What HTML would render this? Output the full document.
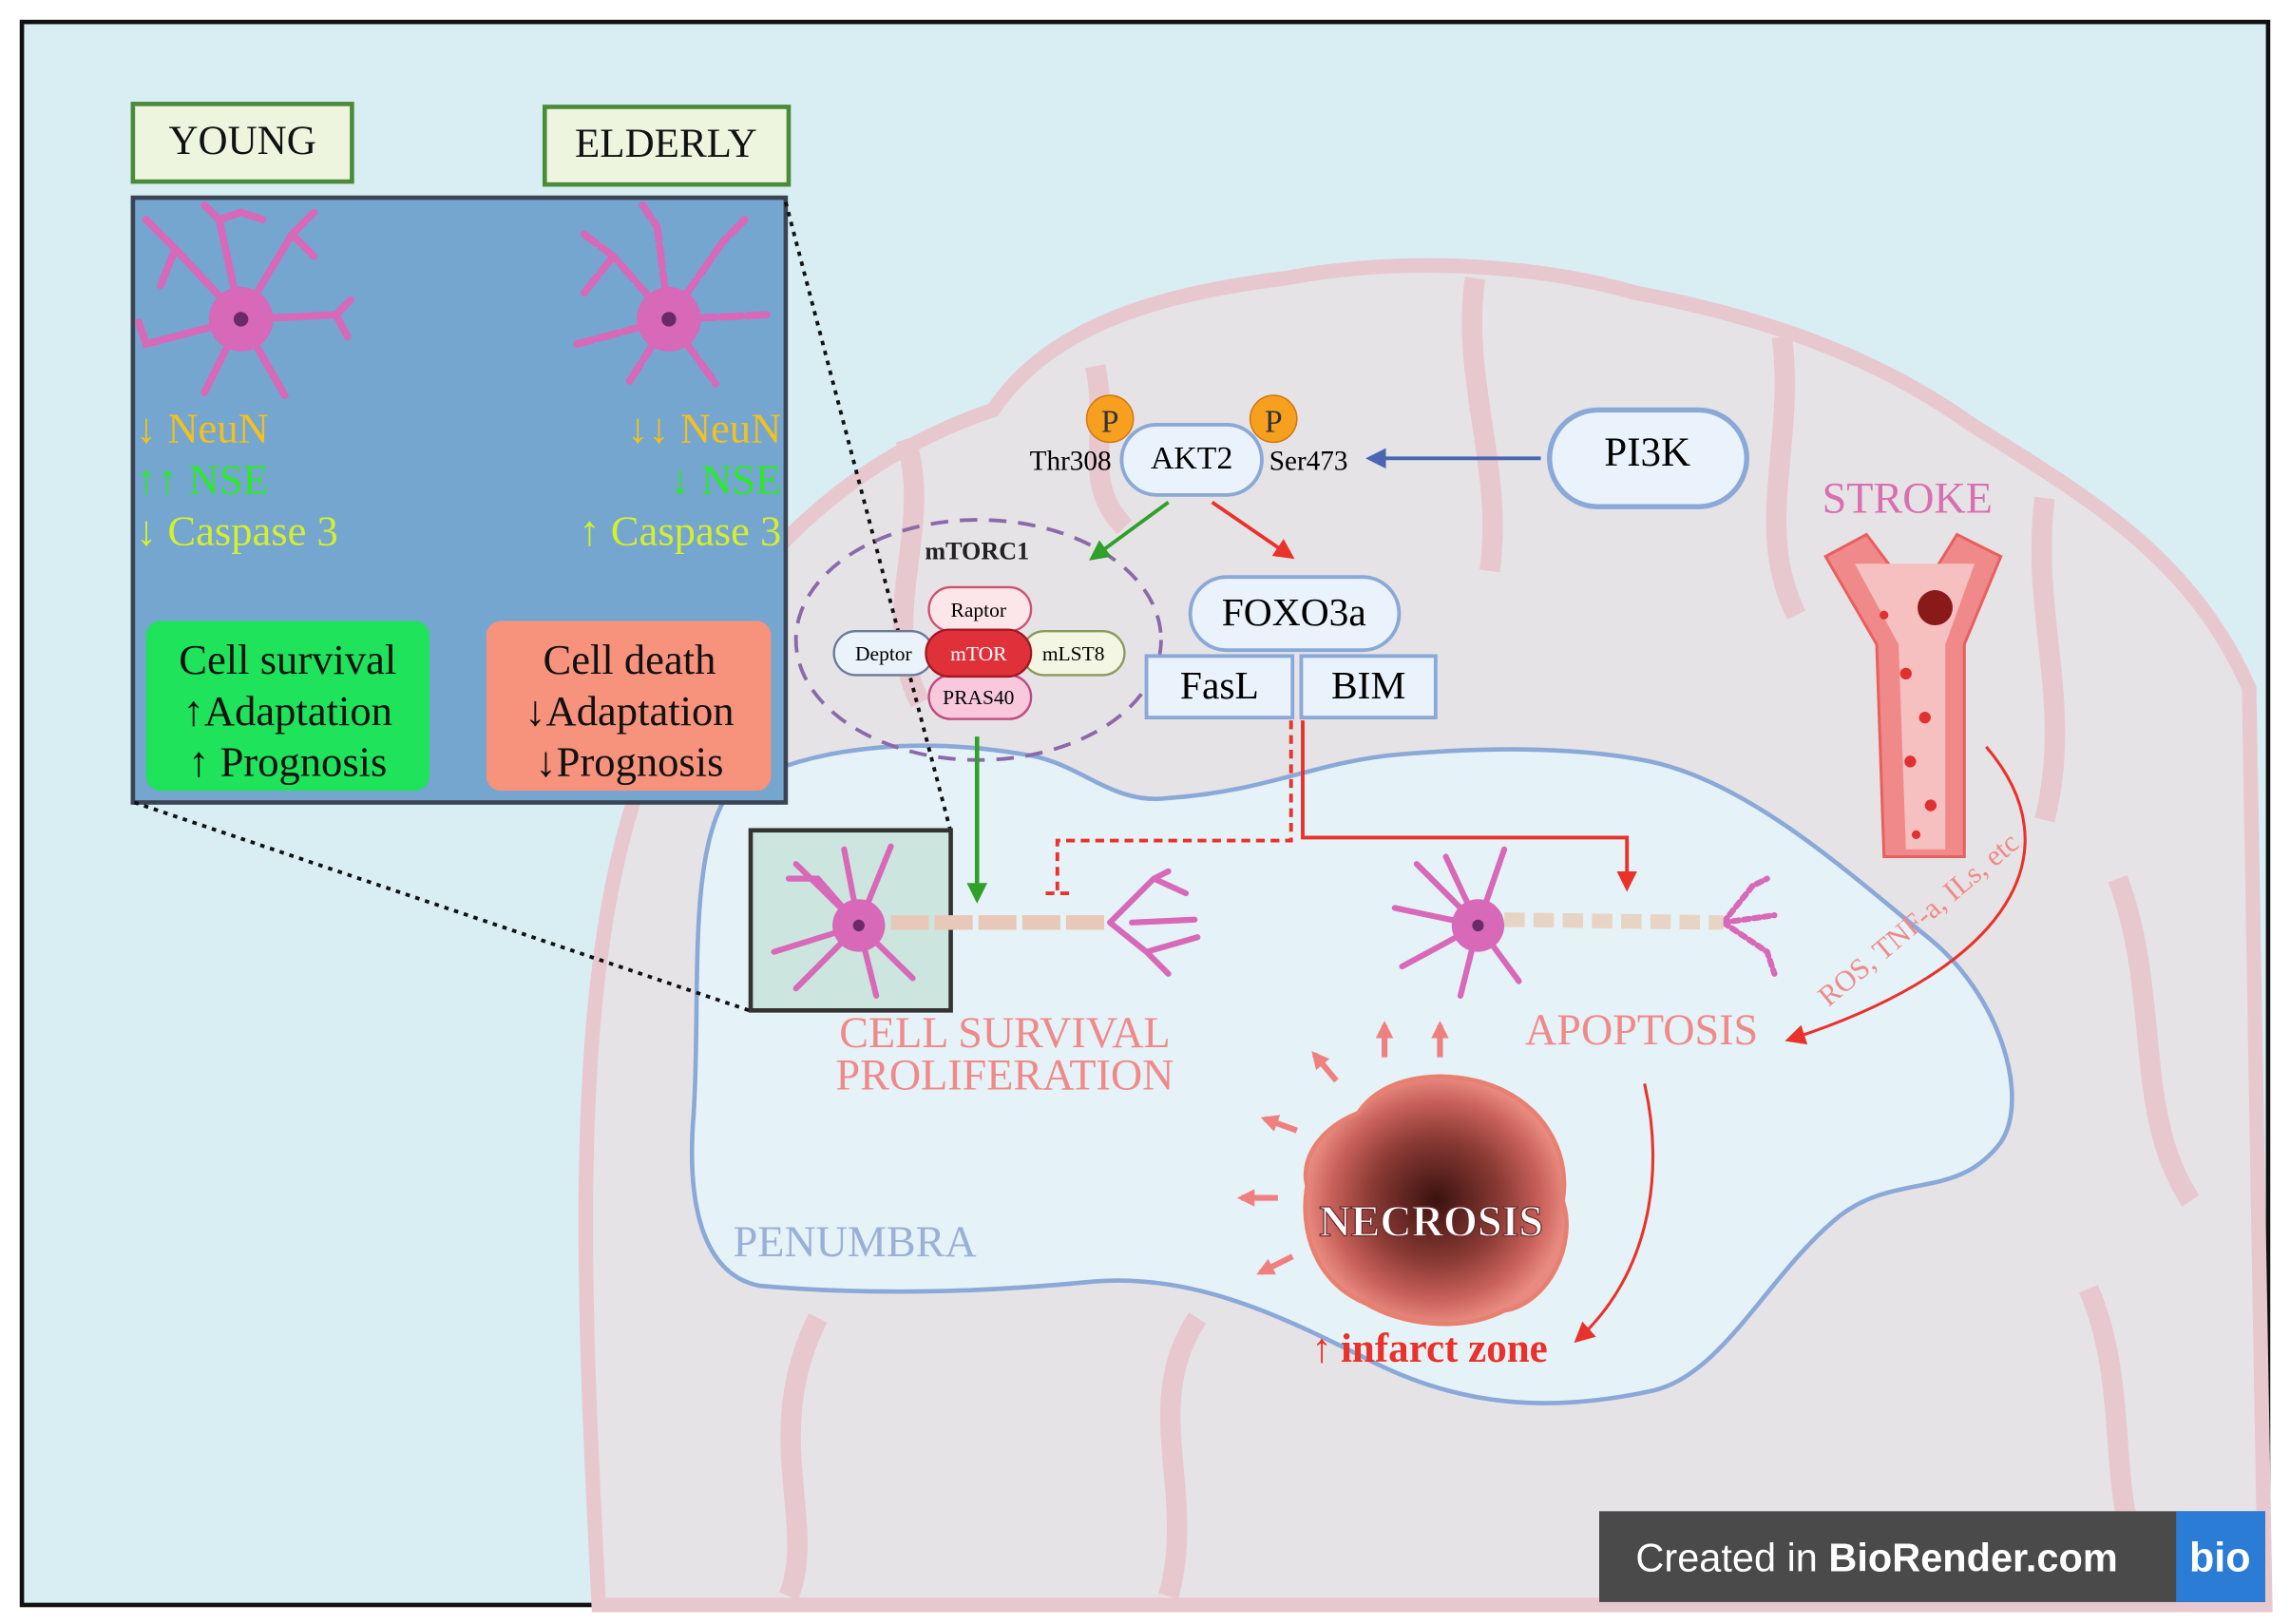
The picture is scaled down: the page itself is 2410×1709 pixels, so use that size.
<!DOCTYPE html>
<html><head><meta charset="utf-8"><style>
html,body{margin:0;padding:0;background:#fff;}
svg{display:block;}
text{font-family:"Liberation Serif",serif;}
</style></head><body>
<svg width="2410" height="1709" viewBox="0 0 1568 1109" preserveAspectRatio="none" xmlns="http://www.w3.org/2000/svg">
<defs>
<marker id="ag" markerUnits="userSpaceOnUse" markerWidth="14" markerHeight="14" refX="11" refY="7" orient="auto"><path d="M0,0 L14,7 L0,14 z" fill="#2fa02a"/></marker>
<marker id="ar" markerUnits="userSpaceOnUse" markerWidth="14" markerHeight="14" refX="11" refY="7" orient="auto"><path d="M0,0 L14,7 L0,14 z" fill="#e8322a"/></marker>
<marker id="ab" markerUnits="userSpaceOnUse" markerWidth="14" markerHeight="14" refX="11" refY="7" orient="auto"><path d="M0,0 L14,7 L0,14 z" fill="#4a66b0"/></marker>
<marker id="ap" markerUnits="userSpaceOnUse" markerWidth="12" markerHeight="12" refX="9" refY="6" orient="auto"><path d="M0,0 L12,6 L0,12 z" fill="#f08080"/></marker>
<radialGradient id="nec" cx="50%" cy="50%" r="50%"><stop offset="0" stop-color="#3a1210"/><stop offset="0.5" stop-color="#8a3a34"/><stop offset="0.8" stop-color="#c8605a"/><stop offset="1" stop-color="#e88a80"/></radialGradient>
</defs>
<rect x="0" y="0" width="1568" height="1109" fill="#fff"/>
<rect x="15" y="15" width="1538" height="1081" fill="#d8eef3" stroke="#111" stroke-width="3"/>
<!-- brain -->
<path d="M410,1096 C400,900 390,700 430,560 C470,420 560,320 680,280 C720,220 800,200 880,190 C960,175 1050,180 1120,200 C1200,215 1280,240 1350,290 C1430,340 1500,380 1540,470 L1551,1096 Z" fill="#e6e3e6" stroke="#e8c8cf" stroke-width="10"/>
<path d="M620,300 C640,360 600,420 630,480 M750,250 C760,300 740,330 770,360 M1010,190 C1000,260 1030,320 1020,390 M1220,230 C1230,300 1200,360 1230,420 M1400,340 C1390,420 1420,480 1400,560 M1450,600 C1480,680 1460,760 1500,820 M1430,880 C1460,950 1440,1020 1470,1080 M800,1090 C820,1020 780,960 820,900 M560,900 C520,980 560,1040 540,1090" fill="none" stroke="#e8c8cf" stroke-width="14"/>
<!-- penumbra -->
<path d="M500,540 C560,505 640,505 700,515 C740,520 760,550 800,545 C870,540 900,520 960,515 C1020,510 1080,510 1130,520 C1200,535 1270,600 1320,640 C1370,680 1390,750 1370,780 C1340,820 1300,800 1260,830 C1210,870 1180,940 1130,950 C1060,965 1000,960 940,930 C880,900 820,870 750,875 C680,882 600,885 520,878 C480,870 470,820 475,760 C480,680 470,580 500,540 Z" fill="#e5f2f7" stroke="#8aa8d8" stroke-width="3"/>
<text x="502" y="858" font-size="30" fill="#9ab0d6">PENUMBRA</text>
<!-- left panel -->
<rect x="91" y="135" width="447" height="413" fill="#74a6cf" stroke="#3a4452" stroke-width="3"/>
<rect x="91" y="71" width="150" height="53" fill="#eef5de" stroke="#4a8a3a" stroke-width="3"/>
<text x="166" y="105" font-size="28" text-anchor="middle" fill="#111">YOUNG</text>
<rect x="373" y="73" width="167" height="53" fill="#eef5de" stroke="#4a8a3a" stroke-width="3"/>
<text x="456" y="107" font-size="28" text-anchor="middle" fill="#111">ELDERLY</text>
<g stroke="#d868b8" stroke-width="5" fill="none" stroke-linecap="round">
<path d="M165,218 L120,170 L100,150 M120,170 L110,195 M165,218 L150,150 L140,140 M150,150 L165,145 L180,150 M165,218 L200,160 L215,145 M200,160 L215,175 M165,218 L230,215 L240,205 M230,215 L238,230 M165,218 L195,270 M165,218 L140,268 M165,218 L100,235 L95,220"/>
<path d="M458,218 L420,175 L400,160 M420,175 L400,200 M458,218 L450,155 L440,140 M458,218 L495,165 L510,150 M458,218 L525,215 M458,218 L490,262 M458,218 L430,262 M458,218 L395,235" stroke-dasharray="14 4"/>
</g>
<circle cx="165" cy="218" r="22" fill="#d868b8"/><circle cx="165" cy="218" r="5" fill="#6a2a6a"/>
<circle cx="458" cy="218" r="22" fill="#d868b8"/><circle cx="458" cy="218" r="5" fill="#6a2a6a"/>
<text x="93" y="302" font-size="29" fill="#f2c020">↓ NeuN</text>
<text x="93" y="337" font-size="29" fill="#2ee82e">↑↑ NSE</text>
<text x="93" y="372" font-size="29" fill="#d4ee30">↓ Caspase 3</text>
<text x="535" y="302" font-size="29" fill="#f2c020" text-anchor="end">↓↓ NeuN</text>
<text x="535" y="337" font-size="29" fill="#2ee82e" text-anchor="end">↓ NSE</text>
<text x="535" y="372" font-size="29" fill="#d4ee30" text-anchor="end">↑ Caspase 3</text>
<rect x="100" y="424" width="194" height="116" rx="10" fill="#1fe35a"/>
<text x="197" y="460" font-size="29" text-anchor="middle" fill="#111">Cell survival</text>
<text x="197" y="495" font-size="29" text-anchor="middle" fill="#111">↑Adaptation</text>
<text x="197" y="530" font-size="29" text-anchor="middle" fill="#111">↑ Prognosis</text>
<rect x="333" y="424" width="195" height="116" rx="10" fill="#f7927c"/>
<text x="431" y="460" font-size="29" text-anchor="middle" fill="#111">Cell death</text>
<text x="431" y="495" font-size="29" text-anchor="middle" fill="#111">↓Adaptation</text>
<text x="431" y="530" font-size="29" text-anchor="middle" fill="#111">↓Prognosis</text>
<line x1="538" y1="138" x2="651" y2="568" stroke="#111" stroke-width="2.5" stroke-dasharray="3 4"/>
<line x1="92" y1="548" x2="513" y2="690" stroke="#111" stroke-width="2.5" stroke-dasharray="3 4"/>
<rect x="514" y="567" width="137" height="123" fill="#cde5df" stroke="#333" stroke-width="3"/>
<g stroke="#d868b8" stroke-width="4" fill="none" stroke-linecap="round">
<path d="M588,632 L545,590 M588,632 L560,600 L540,600 M588,632 L578,580 M588,632 L610,578 M588,632 L530,650 M588,632 L545,675 M588,632 L600,680 M588,632 L625,668"/>
<path d="M760,630 L790,600 L800,595 M790,600 L812,610 M760,630 L785,650 L800,665 M785,650 L820,640 M775,630 L818,628"/>
</g>
<path d="M610,630 L760,630" stroke="#e8c8b8" stroke-width="10" stroke-dasharray="26 4"/>
<circle cx="588" cy="632" r="18" fill="#d868b8"/><circle cx="588" cy="632" r="4" fill="#6a2a6a"/>
<g stroke="#d868b8" stroke-width="4" fill="none" stroke-linecap="round">
<path d="M1012,632 L970,590 M1012,632 L990,585 M1012,632 L1030,580 M1012,632 L955,620 M1012,632 L960,660 M1012,632 L1000,680 M1012,632 L1040,670"/>
<path d="M1180,630 L1200,605 L1210,600 M1180,630 L1215,625 M1180,630 L1210,650 L1215,665" stroke-dasharray="4 3"/>
</g>
<path d="M1030,628 L1180,630" stroke="#e8d4c4" stroke-width="10" stroke-dasharray="14 6"/>
<circle cx="1012" cy="632" r="18" fill="#d868b8"/><circle cx="1012" cy="632" r="4" fill="#6a2a6a"/>
<text x="688" y="715" font-size="30" fill="#f08a8a" text-anchor="middle">CELL SURVIVAL</text>
<text x="688" y="744" font-size="30" fill="#f08a8a" text-anchor="middle">PROLIFERATION</text>
<text x="1124" y="713" font-size="30" fill="#f08a8a" text-anchor="middle">APOPTOSIS</text>
<ellipse cx="670" cy="437" rx="125" ry="82" fill="none" stroke="#8a6aa8" stroke-width="2.5" stroke-dasharray="12 8"/>
<text x="669" y="382" font-size="17" font-weight="bold" text-anchor="middle" fill="#222">mTORC1</text>
<rect x="571" y="431" width="68" height="30" rx="15" fill="#eaf2fa" stroke="#6a7a9a" stroke-width="1.5"/>
<text x="605" y="451" font-size="14" text-anchor="middle">Deptor</text>
<rect x="700" y="431" width="70" height="30" rx="15" fill="#f2f6e2" stroke="#8a9a5a" stroke-width="1.5"/>
<text x="735" y="451" font-size="14" text-anchor="middle">mLST8</text>
<rect x="636" y="401" width="70" height="30" rx="15" fill="#fde6ea" stroke="#d05070" stroke-width="1.5"/>
<text x="670" y="421" font-size="14" text-anchor="middle">Raptor</text>
<rect x="636" y="461" width="70" height="30" rx="15" fill="#f8c8dc" stroke="#c04880" stroke-width="1.5"/>
<text x="670" y="481" font-size="14" text-anchor="middle">PRAS40</text>
<rect x="634" y="430" width="72" height="32" rx="16" fill="#e0303a" stroke="#a01820" stroke-width="1.5"/>
<text x="670" y="451" font-size="14" text-anchor="middle" fill="#fff">mTOR</text>
<circle cx="760" cy="286" r="16" fill="#f7a020" stroke="#d07a10"/>
<text x="760" y="295" font-size="22" text-anchor="middle" font-family="Liberation Sans" fill="#333">P</text>
<circle cx="872" cy="286" r="16" fill="#f7a020" stroke="#d07a10"/>
<text x="872" y="295" font-size="22" text-anchor="middle" fill="#333">P</text>
<rect x="768" y="290" width="96" height="48" rx="24" fill="#eaf3fb" stroke="#8aa8d8" stroke-width="2.5"/>
<text x="816" y="320" font-size="22" text-anchor="middle">AKT2</text>
<text x="733" y="321" font-size="19" text-anchor="middle">Thr308</text>
<text x="896" y="321" font-size="19" text-anchor="middle">Ser473</text>
<rect x="1061" y="280" width="135" height="66" rx="33" fill="#eaf3fb" stroke="#8aa8d8" stroke-width="3.5"/>
<text x="1128" y="318" font-size="28" text-anchor="middle">PI3K</text>
<line x1="1055" y1="313" x2="938" y2="313" stroke="#4a66b0" stroke-width="2.5" marker-end="url(#ab)"/>
<line x1="800" y1="343" x2="748" y2="381" stroke="#2fa02a" stroke-width="2.5" marker-end="url(#ag)"/>
<line x1="830" y1="343" x2="884" y2="380" stroke="#e8322a" stroke-width="2.5" marker-end="url(#ar)"/>
<rect x="815" y="394" width="143" height="50" rx="25" fill="#eaf3fb" stroke="#8aa8d8" stroke-width="2.5"/>
<text x="886" y="427" font-size="27" text-anchor="middle">FOXO3a</text>
<rect x="785" y="448" width="100" height="42" fill="#eaf3fb" stroke="#8aa8d8" stroke-width="2.5"/>
<text x="835" y="477" font-size="27" text-anchor="middle">FasL</text>
<rect x="891" y="448" width="92" height="42" fill="#eaf3fb" stroke="#8aa8d8" stroke-width="2.5"/>
<text x="937" y="477" font-size="27" text-anchor="middle">BIM</text>
<line x1="669" y1="503" x2="669" y2="614" stroke="#2fa02a" stroke-width="3" marker-end="url(#ag)"/>
<path d="M884,492 L884,574 L724,574 L724,610 M716,610 L732,610" fill="none" stroke="#e8322a" stroke-width="2.5" stroke-dasharray="6 4"/>
<path d="M892,492 L892,572 L1114,572 L1114,606" fill="none" stroke="#e8322a" stroke-width="2.5" marker-end="url(#ar)"/>
<text x="1306" y="350" font-size="30" fill="#d870b0" text-anchor="middle">STROKE</text>
<path d="M1250,380 L1285,440 L1290,585 L1345,585 L1345,440 L1370,380 L1340,365 L1312,410 L1278,365 Z" fill="#f08a8a" stroke="#e86060" stroke-width="2"/>
<path d="M1270,385 L1300,440 L1305,580 L1332,580 L1332,440 L1352,385" fill="#f6c0c0"/>
<circle cx="1325" cy="415" r="12" fill="#8a1a1a"/>
<g fill="#e03030"><circle cx="1305" cy="460" r="4"/><circle cx="1318" cy="490" r="4"/><circle cx="1308" cy="520" r="4"/><circle cx="1322" cy="550" r="4"/><circle cx="1290" cy="420" r="3"/><circle cx="1312" cy="570" r="3"/></g>
<path d="M1360,510 C1420,580 1380,660 1225,710" fill="none" stroke="#e8322a" stroke-width="2" marker-end="url(#ar)"/>
<text x="0" y="0" font-size="20" fill="#f08a8a" transform="translate(1252,688) rotate(-40)">ROS, TNF-a, ILs, etc</text>
<path d="M1126,740 C1140,800 1130,870 1080,915" fill="none" stroke="#e8322a" stroke-width="2" marker-end="url(#ar)"/>
<path d="M930,760 C950,730 1000,730 1030,745 C1060,760 1075,790 1070,820 C1080,850 1060,890 1030,895 C1000,910 960,905 935,890 C900,875 890,840 895,810 C890,790 905,770 930,760 Z" fill="url(#nec)" stroke="#e88070" stroke-width="3"/>
<text x="980" y="844" font-size="30" font-weight="bold" text-anchor="middle" fill="#fff" stroke="#6a2a2a" stroke-width="0.8">NECROSIS</text>
<g stroke="#f08080" stroke-width="4" marker-end="url(#ap)">
<line x1="948" y1="722" x2="948" y2="700"/><line x1="986" y1="722" x2="986" y2="700"/>
<line x1="915" y1="738" x2="900" y2="720"/><line x1="888" y1="772" x2="866" y2="764"/>
<line x1="875" y1="818" x2="850" y2="818"/><line x1="885" y1="858" x2="863" y2="869"/>
</g>
<text x="905" y="930" font-size="28" font-weight="bold" fill="#e8322a" text-anchor="middle">↑</text>
<text x="918" y="930" font-size="28" font-weight="bold" fill="#e8322a">infarct zone</text>
<rect x="1095" y="1032" width="456" height="62" fill="#4a4a4a"/>
<rect x="1490" y="1032" width="61" height="62" fill="#2a7cd4"/>
<text x="1120" y="1073" font-size="27" fill="#fff" style="font-family:'Liberation Sans',sans-serif">Created in <tspan font-weight="bold">BioRender.com</tspan></text>
<text x="1520" y="1073" font-size="28" fill="#fff" style="font-family:'Liberation Sans',sans-serif" font-weight="bold" text-anchor="middle">bio</text>
</svg>
</body></html>
